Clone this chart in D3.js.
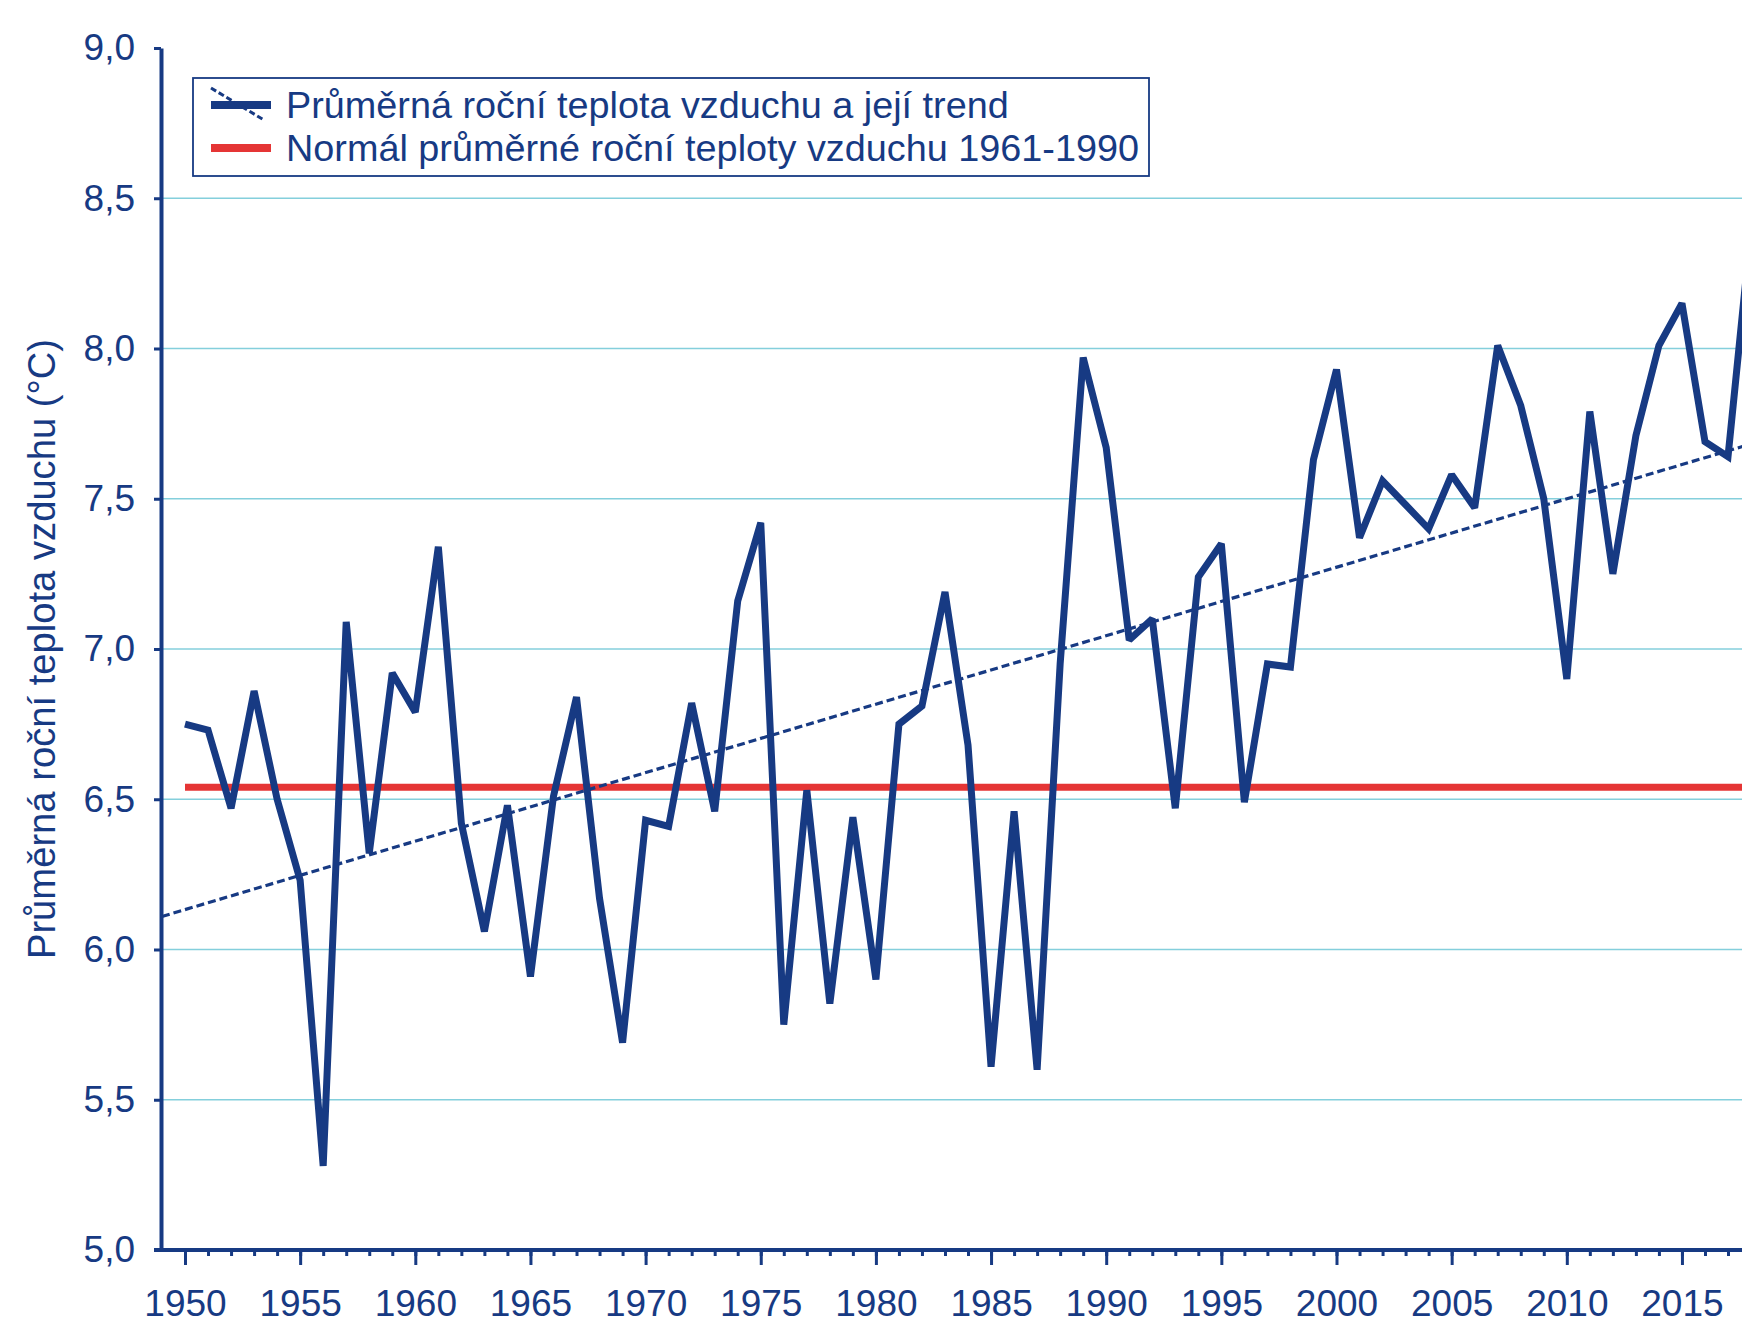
<!DOCTYPE html>
<html>
<head>
<meta charset="utf-8">
<script src="https://cdn.jsdelivr.net/npm/d3@7"></script>
<style>
  html, body { margin: 0; padding: 0; background: #ffffff; }
  svg { display: block; }
  text { font-family: "Liberation Sans", Arial, Helvetica, sans-serif; }
</style>
</head>
<body>
<svg id="chart" width="1742" height="1322"></svg>
<script>
// ---- data ----
const years = [1950,1951,1952,1953,1954,1955,1956,1957,1958,1959,
               1960,1961,1962,1963,1964,1965,1966,1967,1968,1969,
               1970,1971,1972,1973,1974,1975,1976,1977,1978,1979,
               1980,1981,1982,1983,1984,1985,1986,1987,1988,1989,
               1990,1991,1992,1993,1994,1995,1996,1997,1998,1999,
               2000,2001,2002,2003,2004,2005,2006,2007,2008,2009,
               2010,2011,2012,2013,2014,2015,2016,2017,2018];
const temperature = [6.75,6.73,6.47,6.86,6.50,6.23,5.28,7.09,6.32,6.92,
                     6.79,7.34,6.42,6.06,6.48,5.91,6.51,6.84,6.17,5.69,
                     6.43,6.41,6.82,6.46,7.16,7.42,5.75,6.53,5.82,6.44,
                     5.90,6.75,6.81,7.19,6.68,5.61,6.46,5.60,6.95,7.97,
                     7.67,7.03,7.10,6.47,7.24,7.35,6.49,6.95,6.94,7.63,
                     7.93,7.37,7.56,7.48,7.40,7.58,7.47,8.01,7.81,7.50,
                     6.90,7.79,7.25,7.71,8.01,8.15,7.69,7.64,8.40];
const normalValue = 6.54;           // normál 1961-1990
const normalYears = [1950, 2019];
const trendYears = [1949, 2019];
const trendValues = [6.11, 7.705];
const yTicks = [5.0,5.5,6.0,6.5,7.0,7.5,8.0,8.5,9.0];
const gridValues = [5.5,6.0,6.5,7.0,7.5,8.0,8.5];
const xMajorTicks = [1950,1955,1960,1965,1970,1975,1980,1985,1990,1995,2000,2005,2010,2015];
const legendLabels = ["Průměrná roční teplota vzduchu a její trend",
                      "Normál průměrné roční teploty vzduchu 1961-1990"];
const yTitle = "Průměrná roční teplota vzduchu (°C)";

// ---- styling ----
const NAVY = "#173a83";
const RED = "#e53535";
const GRID = "#84cfdc";

const svg = d3.select("#chart");
svg.append("rect").attr("width",1742).attr("height",1322).attr("fill","#fff");

const x = d3.scaleLinear().domain([1950, 2015]).range([185, 185 + 65*23.03]);
const y = d3.scaleLinear().domain([5, 9]).range([1250, 48]);
const axisX = 161;

// clip for plot
svg.append("defs").append("clipPath").attr("id","plotclip")
  .append("rect").attr("x", axisX).attr("y", 40).attr("width", 1742-axisX+50).attr("height", 1250-40);

// gridlines
svg.append("g").selectAll("line").data(gridValues).join("line")
  .attr("x1", axisX).attr("x2", 1742)
  .attr("y1", d => y(d)).attr("y2", d => y(d))
  .attr("stroke", GRID).attr("stroke-width", 1.6);

const plot = svg.append("g").attr("clip-path","url(#plotclip)");

// normal line
plot.append("line")
  .attr("x1", x(normalYears[0])).attr("x2", x(normalYears[1]))
  .attr("y1", y(normalValue)).attr("y2", y(normalValue))
  .attr("stroke", RED).attr("stroke-width", 7);

// trend line
plot.append("line")
  .attr("x1", x(trendYears[0])).attr("x2", x(trendYears[1]))
  .attr("y1", y(trendValues[0])).attr("y2", y(trendValues[1]))
  .attr("stroke", NAVY).attr("stroke-width", 3.2)
  .attr("stroke-dasharray", "8,4");

// temperature line
const line = d3.line().x((d,i) => x(years[i])).y(d => y(d));
plot.append("path").datum(temperature)
  .attr("d", line)
  .attr("fill","none").attr("stroke", NAVY).attr("stroke-width", 7)
  .attr("stroke-linejoin","miter").attr("stroke-miterlimit", 2);

// y axis
const yAxis = d3.axisLeft(y).tickValues(yTicks).tickSize(7).tickSizeOuter(0).tickPadding(19)
  .tickFormat(d => d.toFixed(1).replace(".", ","));
const gy = svg.append("g").attr("transform", `translate(${axisX},0)`).call(yAxis);
gy.select(".domain").attr("stroke", NAVY).attr("stroke-width", 4);
gy.selectAll(".tick line").attr("stroke", NAVY).attr("stroke-width", 3);
gy.selectAll(".tick text").attr("fill", NAVY).attr("font-size", 37)
  .attr("font-family", '"Liberation Sans", Arial, sans-serif');

// x axis (minor ticks each year, major every 5)
const xAxisMinor = d3.axisBottom(x).tickValues(years).tickSize(6).tickSizeOuter(0).tickFormat("");
const gxm = svg.append("g").attr("transform", `translate(0,${y(5)})`).call(xAxisMinor);
gxm.select(".domain").remove();
gxm.selectAll(".tick line").attr("stroke", NAVY).attr("stroke-width", 3);

const xAxis = d3.axisBottom(x).tickValues(xMajorTicks).tickSize(15).tickSizeOuter(0).tickPadding(25)
  .tickFormat(d => String(d));
const gx = svg.append("g").attr("transform", `translate(0,${y(5)})`).call(xAxis);
gx.select(".domain").remove();
gx.selectAll(".tick line").attr("stroke", NAVY).attr("stroke-width", 3);
gx.selectAll(".tick text").attr("fill", NAVY).attr("font-size", 37)
  .attr("font-family", '"Liberation Sans", Arial, sans-serif');

svg.append("line").attr("x1", axisX - 7).attr("x2", 1742)
  .attr("y1", y(5)).attr("y2", y(5)).attr("stroke", NAVY).attr("stroke-width", 4);

// y title
svg.append("text")
  .attr("transform", `translate(55,${(y(5)+y(9))/2}) rotate(-90)`)
  .attr("text-anchor","middle").attr("fill", NAVY).attr("font-size", 38.2)
  .text(yTitle);

// legend
const lg = svg.append("g");
lg.append("rect").attr("x", 193).attr("y", 78).attr("width", 956).attr("height", 98)
  .attr("fill","#fff").attr("stroke", NAVY).attr("stroke-width", 1.8);
lg.append("line").attr("x1", 211).attr("x2", 271).attr("y1", 105).attr("y2", 105)
  .attr("stroke", NAVY).attr("stroke-width", 8);
lg.append("line").attr("x1", 211).attr("x2", 264).attr("y1", 88).attr("y2", 120)
  .attr("stroke", NAVY).attr("stroke-width", 3).attr("stroke-dasharray", "6,3");
lg.append("line").attr("x1", 211).attr("x2", 271).attr("y1", 148).attr("y2", 148)
  .attr("stroke", RED).attr("stroke-width", 8);
lg.selectAll("text.leg").data(legendLabels).join("text").attr("class","leg")
  .attr("x", 286).attr("y", (d,i) => 118 + i*43)
  .attr("fill", NAVY).attr("font-size", 37.8)
  .text(d => d);
</script>
</body>
</html>
